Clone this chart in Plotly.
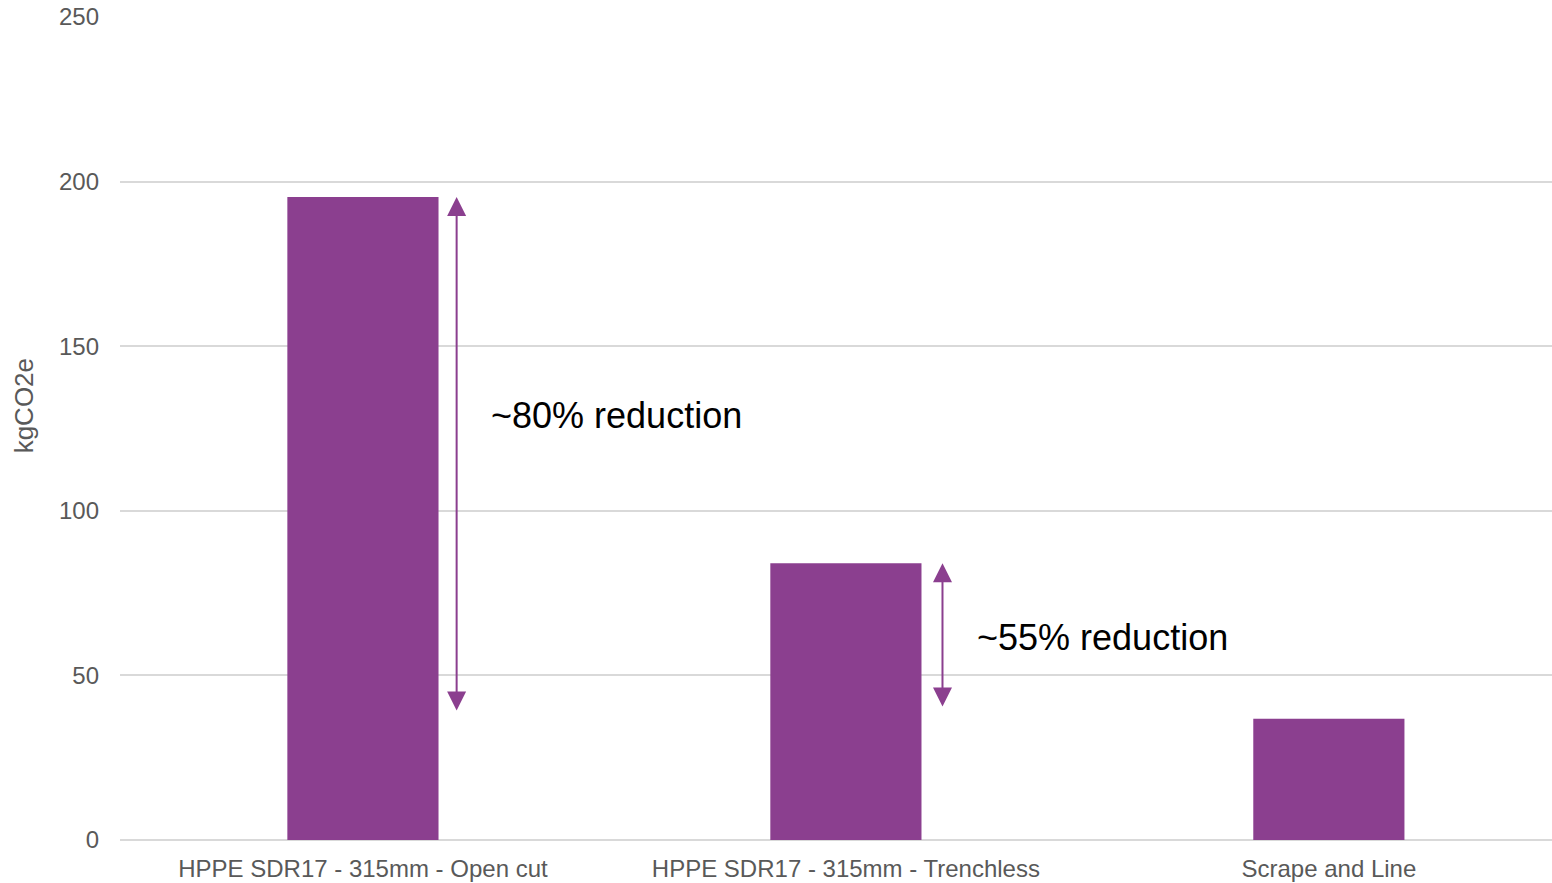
import plotly.graph_objects as go

# Embodied carbon per option
categories = ["HPPE SDR17 - 315mm - Open cut", "HPPE SDR17 - 315mm - Trenchless", "Scrape and Line"]
emissions = [195.3, 84.1, 36.8]
y_ticks = [0, 50, 100, 150, 200, 250]

# Reduction arrows: (x position, top, bottom) and their labels
arrow_x = [0.194, 1.2]
arrow_top = [195.3, 84.1]
arrow_bottom = [38.9, 40.1]
label_x = [0.26, 1.268]
label_y = [129, 61.4]
label_text = ["~80% reduction", "~55% reduction"]

purple = "#8B3F8F"
grey_text = "#595959"
grid = "#D9D9D9"
font_family = "Liberation Sans, Arial, sans-serif"

xpos = list(range(len(categories)))

fig = go.Figure(
    go.Bar(
        x=xpos,
        y=emissions,
        width=0.313,
        marker=dict(color=purple, line=dict(width=0)),
        hoverinfo="skip",
    )
)

for xa, top, bot in zip(arrow_x, arrow_top, arrow_bottom):
    fig.add_annotation(
        x=xa, y=top, ax=xa, ay=bot,
        xref="x", yref="y", axref="x", ayref="y",
        showarrow=True, arrowhead=2, startarrowhead=2,
        arrowside="end+start", arrowwidth=2, arrowsize=1.9, startarrowsize=1.9,
        arrowcolor=purple, text="", standoff=0, startstandoff=0,
    )

for lx, ly, txt in zip(label_x, label_y, label_text):
    fig.add_annotation(
        x=lx, y=ly, xref="x", yref="y", text=txt, showarrow=False,
        xanchor="left", yanchor="middle",
        font=dict(family=font_family, size=36, color="#000000"),
    )

# Y-axis title, placed as rotated text left of the tick labels
fig.add_annotation(
    x=-0.067, y=0.527, xref="paper", yref="paper", text="kgCO2e",
    showarrow=False, textangle=-90, xanchor="center", yanchor="middle",
    font=dict(family=font_family, size=26, color=grey_text),
)

fig.update_layout(
    width=1552, height=883,
    margin=dict(l=120, r=0, t=17, b=43),
    paper_bgcolor="white", plot_bgcolor="white",
    showlegend=False,
    font=dict(family=font_family, size=24, color=grey_text),
)

fig.update_xaxes(
    range=[-0.503, 2.462],
    tickvals=xpos, ticktext=categories,
    showgrid=False, zeroline=False, showline=False,
    ticks="", ticklabelstandoff=12,
    tickfont=dict(family=font_family, size=24, color=grey_text),
)

fig.update_yaxes(
    range=[0, 250],
    tickvals=y_ticks,
    showgrid=True, gridcolor=grid, gridwidth=1.5,
    zeroline=True, zerolinecolor=grid, zerolinewidth=1.5,
    showline=False, ticks="", ticklabelstandoff=20,
    tickfont=dict(family=font_family, size=24, color=grey_text),
)

fig.write_html("out.html")
